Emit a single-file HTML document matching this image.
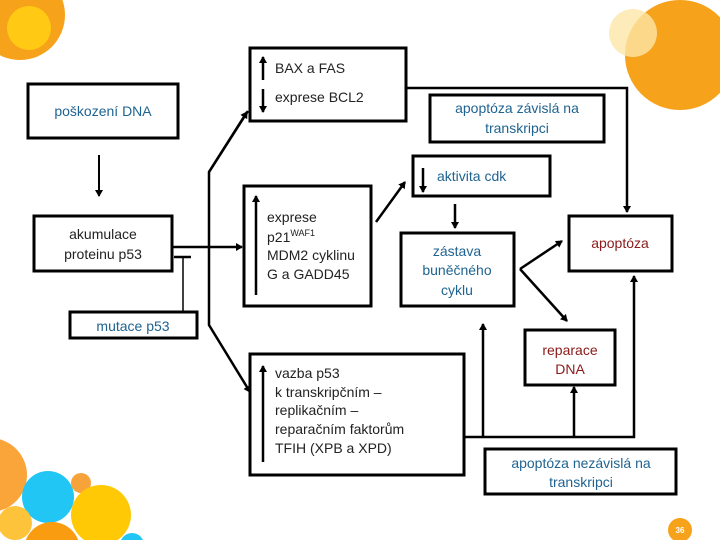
<!DOCTYPE html>
<html><head><meta charset="utf-8"><style>
html,body{margin:0;padding:0;background:#fff;width:720px;height:540px;overflow:hidden;}
svg{display:block;font-family:"Liberation Sans",sans-serif;overflow:hidden;}
.b{font-size:14px;fill:#1f6391}
.k{font-size:14px;fill:#222}
.r{font-size:14px;fill:#8b1a1a}
</style></head><body>
<svg width="720" height="540" viewBox="0 0 720 540" xmlns="http://www.w3.org/2000/svg">
<defs><marker id="a" markerWidth="8" markerHeight="8" refX="6" refY="4" orient="auto" markerUnits="userSpaceOnUse"><path d="M0,0 L7,4 L0,8 z" fill="#000"/></marker></defs>
<circle cx="20" cy="15" r="45" fill="#f7a21b"/>
<circle cx="29" cy="28" r="22" fill="#ffc914"/>
<circle cx="680" cy="55" r="55" fill="#f7a21b"/>
<circle cx="633" cy="33" r="24" fill="#fde6a8" opacity="0.8"/>
<circle cx="-10" cy="475" r="37" fill="#f9a53a"/>
<circle cx="48" cy="497" r="26" fill="#22c6f5"/>
<circle cx="81" cy="483" r="10" fill="#f7a33c"/>
<circle cx="101" cy="515" r="30" fill="#ffc905"/>
<circle cx="15" cy="523" r="17" fill="#fdc33a"/>
<circle cx="52" cy="550" r="28" fill="#f99c10"/>
<circle cx="132" cy="545" r="12" fill="#22c6f5"/>
<circle cx="680" cy="530" r="12" fill="#f7a21b"/>
<text x="680" y="533" font-size="8" fill="#fff" text-anchor="middle" font-weight="bold">36</text>
<g fill="none" stroke="#000" stroke-width="3">
<rect x="28" y="84" width="150" height="54"/>
<rect x="250" y="48" width="156" height="73"/>
<rect x="430" y="95" width="174" height="47"/>
<rect x="413" y="156" width="137" height="40"/>
<rect x="34" y="216" width="138" height="55"/>
<rect x="244" y="186" width="127" height="120"/>
<rect x="401" y="233" width="113" height="73"/>
<rect x="569" y="216" width="103" height="55"/>
<rect x="70" y="312" width="127" height="26"/>
<rect x="525" y="330" width="90" height="55"/>
<rect x="250" y="354" width="214" height="121"/>
<rect x="485" y="449" width="191" height="45"/>
</g>
<g stroke="#000" stroke-width="2.5" fill="none">
<line x1="99" y1="155" x2="99" y2="196" stroke-width="2" marker-end="url(#a)"/>
<line x1="172" y1="247" x2="242" y2="247" marker-end="url(#a)"/>
<line x1="174" y1="257" x2="191" y2="257"/>
<line x1="183" y1="257" x2="183" y2="312" stroke-width="1.5"/>
<polyline points="248,111 209,172 209,325 250,392" marker-end="url(#a)"/>
<line x1="209" y1="172" x2="247" y2="112" marker-end="url(#a)"/>
<line x1="263" y1="80" x2="263" y2="57" marker-end="url(#a)"/>
<line x1="263" y1="89" x2="263" y2="112" marker-end="url(#a)"/>
<polyline points="406,88 627,88 627,212" marker-end="url(#a)"/>
<line x1="423" y1="168" x2="423" y2="192" marker-end="url(#a)"/>
<line x1="256" y1="295" x2="256" y2="196" marker-end="url(#a)"/>
<line x1="376" y1="222" x2="405" y2="182" marker-end="url(#a)"/>
<line x1="455" y1="204" x2="455" y2="228" marker-end="url(#a)"/>
<line x1="520" y1="269" x2="562" y2="241" marker-end="url(#a)"/>
<line x1="520" y1="269" x2="567" y2="321" marker-end="url(#a)"/>
<polyline points="464,437 634,437 634,276" marker-end="url(#a)"/>
<line x1="483" y1="437" x2="483" y2="324" marker-end="url(#a)"/>
<line x1="574" y1="437" x2="574" y2="387" marker-end="url(#a)"/>
<line x1="263" y1="462" x2="263" y2="366" marker-end="url(#a)"/>
</g>
<text x="103" y="116" class="b" text-anchor="middle">poškození DNA</text>
<text x="275" y="73" class="k">BAX a FAS</text>
<text x="275" y="102" class="k">exprese BCL2</text>
<text x="517" y="113" class="b" text-anchor="middle">apoptóza závislá na</text>
<text x="517" y="133" class="b" text-anchor="middle">transkripci</text>
<text x="437" y="181" class="b">aktivita cdk</text>
<text x="103" y="239" class="k" text-anchor="middle">akumulace</text>
<text x="103" y="259" class="k" text-anchor="middle">proteinu p53</text>
<text x="267" y="222" class="k">exprese</text>
<text x="267" y="242" class="k">p21<tspan font-size="9" dy="-6">WAF1</tspan></text>
<text x="267" y="260" class="k">MDM2 cyklinu</text>
<text x="267" y="279" class="k">G a GADD45</text>
<text x="457" y="256" class="b" text-anchor="middle">zástava</text>
<text x="457" y="275" class="b" text-anchor="middle">buněčného</text>
<text x="457" y="295" class="b" text-anchor="middle">cyklu</text>
<text x="620" y="248" class="r" text-anchor="middle">apoptóza</text>
<text x="133" y="331" class="b" text-anchor="middle">mutace p53</text>
<text x="570" y="355" class="r" text-anchor="middle">reparace</text>
<text x="570" y="374" class="r" text-anchor="middle">DNA</text>
<text x="275" y="378" class="k">vazba p53</text>
<text x="275" y="397" class="k">k transkripčním –</text>
<text x="275" y="415" class="k">replikačním –</text>
<text x="275" y="434" class="k">reparačním faktorům</text>
<text x="275" y="453" class="k">TFIH (XPB a XPD)</text>
<text x="581" y="468" class="b" text-anchor="middle">apoptóza nezávislá na</text>
<text x="581" y="487" class="b" text-anchor="middle">transkripci</text>
</svg>
</body></html>
